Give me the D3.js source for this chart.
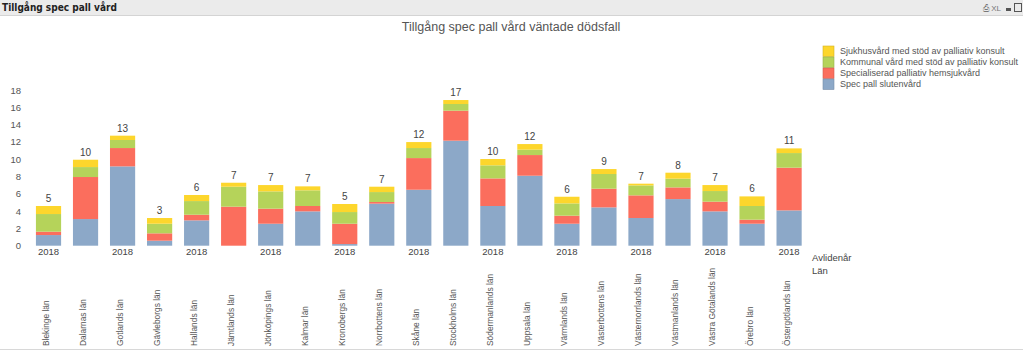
<!DOCTYPE html>
<html>
<head>
<meta charset="utf-8">
<script src="https://cdn.jsdelivr.net/npm/d3@7"></script>
<style>
  html, body { margin: 0; padding: 0; background: #fff; }
  svg { display: block; }
</style>
</head>
<body>
<svg id="chart" width="1023" height="352"></svg>
<script>
const counties = ["Blekinge län","Dalarnas län","Gotlands län","Gävleborgs län","Hallands län","Jämtlands län","Jönköpings län","Kalmar län","Kronobergs län","Norrbottens län","Skåne län","Stockholms län","Södermanlands län","Uppsala län","Värmlands län","Västerbottens län","Västernorrlands län","Västmanlands län","Västra Götalands län","Örebro län","Östergötlands län"];
const year = "2018";
const specPallSlutenvard = [1.23,3.08,9.17,0.58,2.93,0.00,2.54,3.97,0.19,4.86,6.47,12.14,4.59,8.09,2.54,4.43,3.20,5.39,3.97,2.54,4.08];
const specHemsjukvard   = [0.39,4.86,2.12,0.85,0.65,4.51,1.74,0.62,2.35,0.19,3.66,3.47,3.19,2.39,0.93,2.16,2.62,1.35,1.12,0.47,4.94];
const kommunalVard      = [2.04,1.15,0.93,1.11,1.58,2.31,2.00,1.81,1.35,1.15,1.16,0.77,1.51,0.62,1.42,1.70,1.15,1.01,1.23,1.58,1.69];
const sjukhusVard       = [0.93,0.85,0.50,0.66,0.70,0.46,0.73,0.46,0.93,0.62,0.69,0.46,0.73,0.65,0.77,0.57,0.20,0.69,0.69,1.11,0.54];
const seriesNames = ["Spec pall slutenvård","Specialiserad palliativ hemsjukvård","Kommunal vård med stöd av palliativ konsult","Sjukhusvård med stöd av palliativ konsult"];
const yTicks = [0,2,4,6,8,10,12,14,16,18];
const colors = ["#8ca8c8","#fb6e5d","#b5d35a","#fdd62c"];

const seriesValues = [specPallSlutenvard, specHemsjukvard, kommunalVard, sjukhusVard];
const rows = counties.map((c, i) => {
  const r = { county: c };
  seriesNames.forEach((s, k) => r[s] = seriesValues[k][i]);
  return r;
});
const stacked = d3.stack().keys(seriesNames)(rows);

const svg = d3.select("#chart");
const font = "Arial, 'Liberation Sans', sans-serif";

// window title bar
svg.append("rect").attr("x",0).attr("y",0).attr("width",1023).attr("height",15).attr("fill","#ebebeb");
svg.append("line").attr("x1",0).attr("x2",1023).attr("y1",15.5).attr("y2",15.5).attr("stroke","#d4d4d4");
svg.append("text").attr("x",2).attr("y",11).attr("font-family","Tahoma, 'DejaVu Sans Condensed', 'DejaVu Sans', sans-serif")
  .attr("font-size",10).attr("font-weight","bold").attr("fill","#222").text("Tillgång spec pall vård");
svg.append("text").attr("x",983).attr("y",11).attr("font-family",font).attr("font-size",8).attr("fill","#777").text("⎙ XL");
svg.append("rect").attr("x",1006).attr("y",8).attr("width",5).attr("height",3).attr("fill","#555");
svg.append("rect").attr("x",1014.5).attr("y",3.5).attr("width",7).attr("height",8).attr("fill","none").attr("stroke","#555");

// bottom border
svg.append("line").attr("x1",0).attr("x2",1023).attr("y1",349.5).attr("y2",349.5).attr("stroke","#d8d8d8");

// title
svg.append("text").attr("x",511).attr("y",31).attr("text-anchor","middle").attr("font-family",font)
  .attr("font-size",12.5).attr("fill","#555").text("Tillgång spec pall vård väntade dödsfall");

const x = d3.scaleBand().domain(counties).range([30, 807.6]).paddingInner(0.32).paddingOuter(0.16);
const y = d3.scaleLinear().domain([0, 18]).range([245.7, 90]);

// y axis
const yAxis = svg.append("g").attr("transform","translate(24,0)")
  .call(d3.axisLeft(y).tickValues(yTicks).tickSize(0).tickPadding(3));
yAxis.select(".domain").remove();
yAxis.selectAll("text").attr("font-family",font).attr("font-size",9.5).attr("fill","#555");

// bars
svg.append("g").selectAll("g").data(stacked).join("g")
  .attr("fill", (d, i) => colors[i])
  .selectAll("rect").data(d => d).join("rect")
  .attr("x", d => x(d.data.county))
  .attr("width", x.bandwidth())
  .attr("y", d => y(d[1]))
  .attr("height", d => y(d[0]) - y(d[1]));

// totals
const totals = counties.map((c, i) => seriesValues.reduce((s, a) => s + a[i], 0));
svg.append("g").selectAll("text").data(counties).join("text")
  .attr("x", d => x(d) + x.bandwidth() / 2)
  .attr("y", (d, i) => y(totals[i]) - 4)
  .attr("text-anchor","middle").attr("font-family",font).attr("font-size",10).attr("fill","#444")
  .text((d, i) => Math.round(totals[i]));

// x axis: year labels every other bar
const xAxis = svg.append("g").attr("transform","translate(0,246)")
  .call(d3.axisBottom(x).tickSize(0).tickPadding(2).tickFormat((d, i) => i % 2 === 0 ? year : ""));
xAxis.select(".domain").remove();
xAxis.selectAll("text").attr("font-family",font).attr("font-size",9.5).attr("fill","#444");

// county labels rotated
svg.append("g").selectAll("text").data(counties).join("text")
  .attr("transform", d => `translate(${x(d) + x.bandwidth() / 2 - 2.5},346) rotate(-90)`)
  .attr("dy","0.35em")
  .attr("text-anchor","start").attr("font-family",font).attr("font-size",8.4).attr("fill","#555")
  .text(d => d);

// dimension labels
svg.append("text").attr("x",812).attr("y",261).attr("font-family",font).attr("font-size",9.5).attr("fill","#444").text("Avlidenår");
svg.append("text").attr("x",812).attr("y",274).attr("font-family",font).attr("font-size",9.5).attr("fill","#444").text("Län");

// legend (reverse order: top is last series)
const legendOrder = seriesNames.map((s, i) => ({ name: s, color: colors[i] })).reverse();
const lg = svg.append("g").selectAll("g").data(legendOrder).join("g")
  .attr("transform", (d, i) => `translate(823,${46 + i * 11})`);
lg.append("rect").attr("width",11).attr("height",10.5).attr("fill", d => d.color)
  .attr("stroke", d => d3.color(d.color).darker(0.5)).attr("stroke-width",0.6);
lg.append("text").attr("x",17).attr("y",5).attr("dy","0.35em").attr("font-family",font)
  .attr("font-size",9).attr("fill","#555").text(d => d.name);
</script>
</body>
</html>
